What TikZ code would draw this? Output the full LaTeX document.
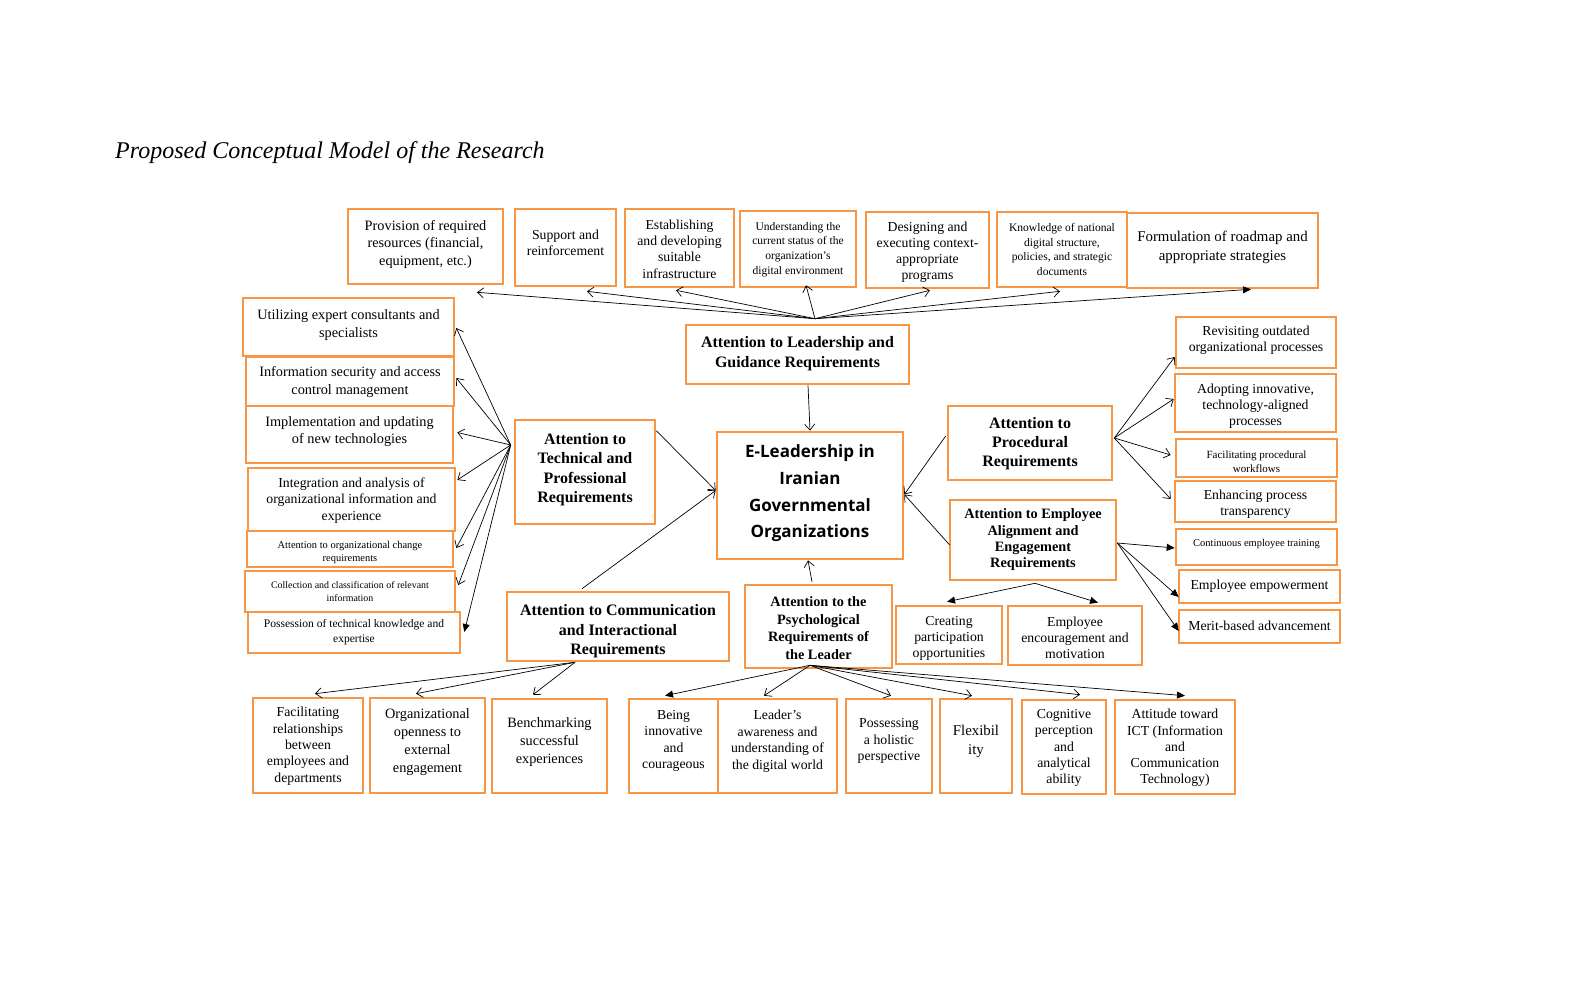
\documentclass[tikz,border=0pt]{standalone}
\usepackage{fontspec}
\setmainfont{Liberation Serif}
\newfontfamily\osans{Open Sans}
\usetikzlibrary{arrows.meta}
\definecolor{boxorange}{RGB}{247,150,70}
\newcommand\fs[2]{\pgfmathsetmacro\fsz{#1*1.1}\fontsize{\fsz}{#2}\selectfont}
\tikzset{
  box/.style={draw=boxorange,line width=2.6pt,inner sep=0pt,fill=white},
  txt/.style={align=center,inner sep=0pt,yshift=-2.5pt},
  arr/.style={-{Straight Barb[length=6pt,width=10pt]},line width=0.7pt},
  farr/.style={-{Triangle[length=8pt,width=7pt]},line width=0.7pt},
  ln/.style={line width=0.7pt}
}
\newcommand\bx[8]{%
  \node[box,minimum width={#4-#2},minimum height={#5-#3}] (#1) at ({(#2+#4)/2},{-(#3+#5)/2}) {};
  \node[txt,font={#7}] (#1-t) at ({(#2+#4)/2},{-#6}) {#8};}
\begin{document}
\begin{tikzpicture}[x=1pt,y=1pt]
\useasboundingbox (0,0) rectangle (1569,-995);
\node[anchor=west,inner sep=0pt,font={\itshape\fontsize{24}{28}\selectfont}] (title) at (115,-153) {Proposed Conceptual Model of the Research};

% top row
\bx{t1}{348}{209}{503}{284}{241.5}{\fs{13}{17.5}}{Provision of required\\resources (financial,\\equipment, etc.)}
\bx{t2}{515}{209}{616}{286}{240.5}{\fs{12.5}{15.5}}{Support and\\reinforcement}
\bx{t3}{625}{209}{734}{287}{246.5}{\fs{12.5}{16.3}}{Establishing\\and developing\\suitable\\infrastructure}
\bx{t4}{740}{211}{856}{287}{247}{\fs{10.5}{14.7}}{Understanding the\\current status of the\\organization's\\digital environment}
\bx{t5}{866}{212}{989}{288}{250}{\fs{12.5}{16}}{Designing and\\executing context-\\appropriate\\programs}
\bx{t6}{997}{212}{1127}{287}{247}{\fs{10.5}{14.7}}{Knowledge of national\\digital structure,\\policies, and strategic\\documents}
\bx{t7}{1127}{213}{1318}{288}{244.5}{\fs{13.5}{19}}{Formulation of roadmap and\\appropriate strategies}

% leadership
\bx{lg}{686}{325}{909}{384}{351}{\bfseries\fs{14.5}{20}}{Attention to Leadership and\\Guidance Requirements}

% centre
\bx{c}{717}{432}{903}{559}{491}{\osans\bfseries\fontsize{17}{26.7}\selectfont}{E-Leadership in\\Iranian\\Governmental\\Organizations}

% left column
\bx{l1}{243}{298}{454}{356}{322.5}{\fs{13}{17.5}}{Utilizing expert consultants and\\specialists}
\bx{l2}{246}{357}{454}{406}{380}{\fs{13}{18}}{Information security and access\\control management}
\bx{l3}{246}{406}{453}{463}{429.5}{\fs{13}{17}}{Implementation and updating\\of new technologies}
\bx{l4}{248}{468}{455}{531}{498}{\fs{12.5}{16.5}}{Integration and analysis of\\organizational information and\\experience}
\bx{l5}{247}{531}{453}{567}{549.5}{\fs{9.5}{13}}{Attention to organizational change\\requirements}
\bx{l6}{245}{571}{455}{612}{589.5}{\fs{9}{13}}{Collection and classification of relevant\\information}
\bx{l7}{248}{612}{460}{653}{629.5}{\fs{10.5}{15}}{Possession of technical knowledge and\\expertise}

% technical
\bx{tp}{515}{420}{655}{524}{467}{\bfseries\fs{14.5}{19.5}}{Attention to\\Technical and\\Professional\\Requirements}

% communication
\bx{ci}{507}{592}{729}{661}{629}{\bfseries\fs{14.5}{19.5}}{Attention to Communication\\and Interactional\\Requirements}

% psychological
\bx{ps}{745}{585}{892}{668}{625.5}{\bfseries\fs{13}{17.7}}{Attention to the\\Psychological\\Requirements of\\the Leader}

% procedural & employee
\bx{pr}{948}{406}{1112}{480}{441}{\bfseries\fs{14.5}{19}}{Attention to\\Procedural\\Requirements}
\bx{ea}{950}{500}{1116}{580}{537.5}{\bfseries\fs{13}{16.3}}{Attention to Employee\\Alignment and\\Engagement\\Requirements}
\bx{cp}{896}{606}{1002}{664}{636}{\fs{12.5}{16}}{Creating\\participation\\opportunities}
\bx{ee}{1008}{606}{1142}{665}{635}{\fs{12.5}{16}}{Employee\\encouragement and\\motivation}

% right column
\bx{r1}{1176}{317}{1336}{368}{338}{\fs{12.5}{16}}{Revisiting outdated\\organizational processes}
\bx{r2}{1175}{374}{1336}{432}{404}{\fs{12.5}{16}}{Adopting innovative,\\technology-aligned\\processes}
\bx{r3}{1176}{439}{1337}{477}{459}{\fs{10}{14}}{Facilitating procedural\\workflows}
\bx{r4}{1175}{481}{1336}{522}{502}{\fs{12.5}{16}}{Enhancing process\\transparency}
\bx{r5}{1176}{529}{1337}{565}{541}{\fs{9.5}{13}}{Continuous employee training}
\bx{r6}{1179}{570}{1340}{603}{584}{\fs{12.5}{16}}{Employee empowerment}
\bx{r7}{1179}{610}{1340}{643}{623}{\fs{12.5}{16}}{Merit-based advancement}

% bottom row
\bx{b1}{253}{698}{363}{793}{743.6}{\fs{12.5}{16.3}}{Facilitating\\relationships\\between\\employees and\\departments}
\bx{b2}{370}{698}{485}{793}{740}{\fs{13}{18}}{Organizational\\openness to\\external\\engagement}
\bx{b3}{492}{699}{607}{793}{740}{\fs{13}{18}}{Benchmarking\\successful\\experiences}
\bx{b4}{629}{699}{718}{793}{738.5}{\fs{12.5}{16.5}}{Being\\innovative\\and\\courageous}
\bx{b5}{718}{699}{837}{793}{738.5}{\fs{12.5}{16.5}}{Leader’s\\awareness and\\understanding of\\the digital world}
\bx{b6}{846}{699}{932}{793}{738.5}{\fs{12.5}{16.5}}{Possessing\\a holistic\\perspective}
\bx{b7}{940}{699}{1012}{793}{738.5}{\fs{13.5}{19}}{Flexibil\\ity}
\bx{b8}{1022}{700}{1106}{794}{745.6}{\fs{12.5}{16.3}}{Cognitive\\perception\\and\\analytical\\ability}
\bx{b9}{1115}{700}{1235}{794}{745.6}{\fs{12.5}{16.3}}{Attitude toward\\ICT (Information\\and\\Communication\\Technology)}

% ---- connectors ----
\coordinate (lo) at ([xshift=17.5pt,yshift=5pt]lg.north);
\draw[arr] (lo) -- ([xshift=51.5pt,yshift=-7pt]t1.south);
\draw[arr] (lo) -- ([xshift=21.5pt,yshift=-4pt]t2.south);
\draw[arr] (lo) -- ([xshift=-3.5pt,yshift=-2pt]t3.south);
\draw[arr] (lo) -- ([xshift=8pt,yshift=3pt]t4.south);
\draw[arr] (lo) -- ([xshift=2.5pt,yshift=-1pt]t5.south);
\draw[arr] (lo) -- ([xshift=-2pt,yshift=-3pt]t6.south);
\draw[farr] (lo) -- ([xshift=28.5pt]t7.south);
\draw[arr] ([xshift=10.5pt]lg.south) -- (c.north);

\coordinate (to) at ([xshift=-3pt,yshift=27pt]tp.west);
\draw[arr] (to) -- ([xshift=1pt,yshift=-1pt]l1.east);
\draw[arr] (to) -- ([xshift=1pt,yshift=3.5pt]l2.east);
\draw[arr] (to) -- ([xshift=3pt,yshift=2pt]l3.east);
\draw[arr] (to) -- ([xshift=1pt,yshift=19.5pt]l4.east);
\draw[arr] (to) -- ([xshift=2pt,yshift=1pt]l5.east);
\draw[arr] (to) -- ([xshift=2pt,yshift=6.5pt]l6.east);
\draw[farr] (to) -- ([xshift=3pt,yshift=0.5pt]l7.east);
\draw[arr] ([yshift=-12pt]tp.north east) -- ([yshift=5pt]c.west);
\draw[arr] ([xshift=-36pt,yshift=2pt]ci.north) -- ([yshift=5pt]c.west);
\draw[arr] ([xshift=-6.5pt,yshift=2pt]ps.north) -- ([xshift=-2pt]c.south);
\draw[arr] ([xshift=-1pt,yshift=7pt]pr.west) -- ([yshift=1pt]c.east);
\draw[arr] ([xshift=1pt,yshift=-5pt]ea.west) -- ([yshift=1pt]c.east);

\coordinate (po) at ([xshift=1pt,yshift=5pt]pr.east);
\draw[arr] (po) -- ([yshift=-14.5pt]r1.west);
\draw[arr] (po) -- ([yshift=4pt]r2.west);
\draw[arr] (po) -- ([xshift=-4pt,yshift=3pt]r3.west);
\draw[arr] (po) -- ([xshift=-3pt,yshift=2.5pt]r4.west);
\coordinate (eo) at ([yshift=-3pt]ea.east);
\draw[farr] (eo) -- ([yshift=-1pt]r5.west);
\draw[farr] (eo) -- ([xshift=1pt,yshift=-10.5pt]r6.west);
\draw[farr] (eo) -- ([xshift=1pt,yshift=-4.5pt]r7.west);
\coordinate (es) at ([xshift=2pt,yshift=-2pt]ea.south);
\draw[farr] (es) -- ([xshift=-2pt,yshift=3pt]cp.north);
\draw[farr] (es) -- ([xshift=23pt,yshift=2pt]ee.north);

\coordinate (co) at ([xshift=-43pt]ci.south);
\draw[arr] (co) -- ([xshift=7pt,yshift=3pt]b1.north);
\draw[arr] (co) -- ([xshift=-11.5pt,yshift=3pt]b2.north);
\draw[arr] (co) -- ([xshift=-16.5pt,yshift=3pt]b3.north);
\coordinate (pso) at ([xshift=-8.5pt,yshift=4pt]ps.south);
\draw[farr] (pso) -- ([xshift=-8.5pt,yshift=2pt]b4.north);
\draw[arr] (pso) -- ([xshift=-13.5pt,yshift=2pt]b5.north);
\draw[arr] (pso) -- ([xshift=2pt,yshift=2pt]b6.north);
\draw[arr] (pso) -- ([xshift=-4pt,yshift=2pt]b7.north);
\draw[arr] (pso) -- ([xshift=16pt,yshift=4pt]b8.north);
\draw[farr] (pso) -- ([xshift=10pt,yshift=3pt]b9.north);
\end{tikzpicture}
\end{document}
